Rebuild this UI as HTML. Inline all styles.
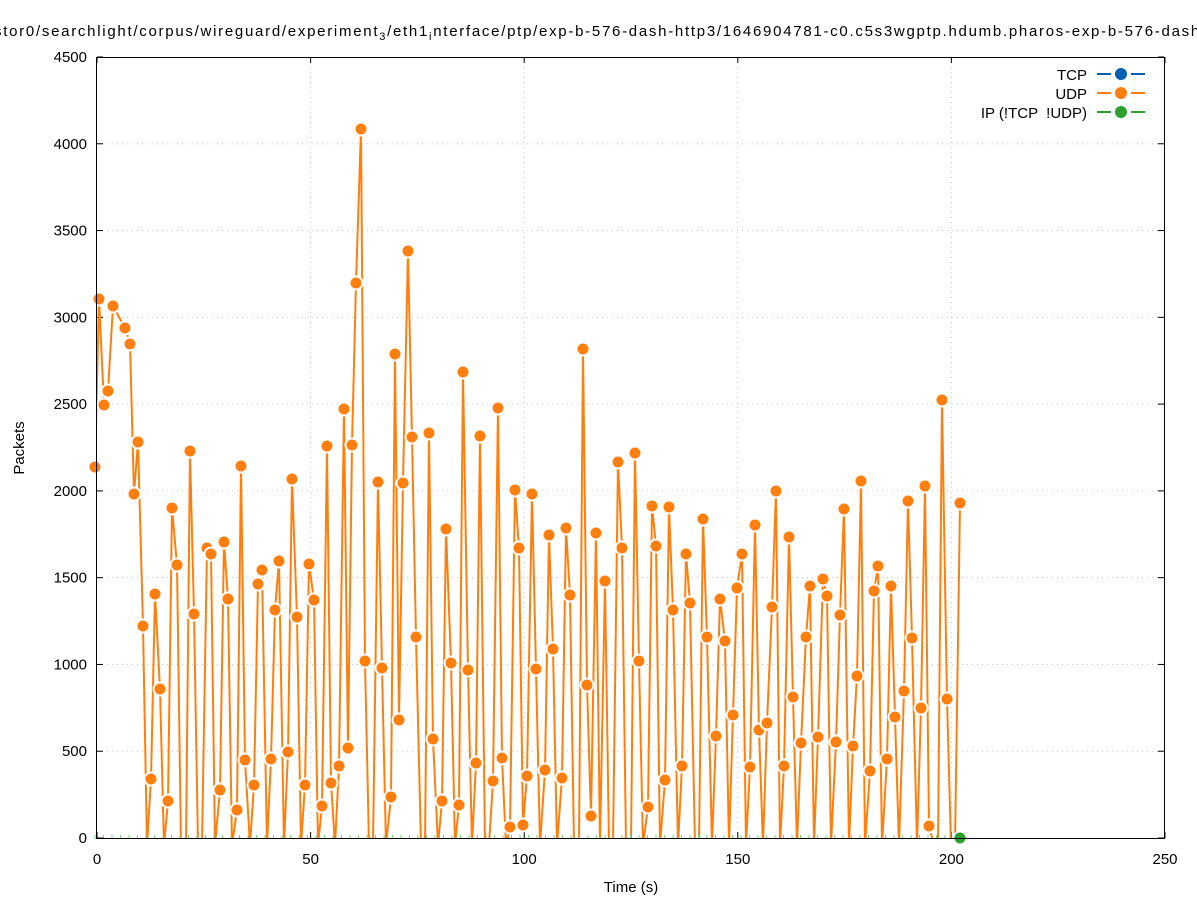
<!DOCTYPE html>
<html><head><meta charset="utf-8"><style>
html,body{margin:0;padding:0;background:#fff;overflow:hidden;}
svg{display:block;font-family:"Liberation Sans","DejaVu Sans",sans-serif;}
</style></head><body>
<svg id="s" width="1197" height="900" viewBox="0 0 1197 900" xmlns="http://www.w3.org/2000/svg">
<rect width="1197" height="900" fill="#fff"/>
<g id="grid" stroke="#c8c8c8" stroke-dasharray="1,4" stroke-width="1"></g>
<text x="-6" y="36" font-size="15" fill="#000" textLength="1222" lengthAdjust="spacing">stor0/searchlight/corpus/wireguard/experiment<tspan font-size="11" dy="4">3</tspan><tspan dy="-4">/eth1</tspan><tspan font-size="11" dy="4">i</tspan><tspan dy="-4">nterface/ptp/exp-b-576-dash-http3/1646904781-c0.c5s3wgptp.hdumb.pharos-exp-b-576-dash-h</tspan></text>
<g id="ticks" font-size="15" fill="#000"></g>
<svg x="96" y="57" width="1069" height="782" viewBox="96 57 1069 782" overflow="hidden"><g id="data"></g></svg>
<g id="top"></g>
<rect x="96.5" y="57.5" width="1068" height="781" fill="none" stroke="#000" stroke-width="1"/>
<text x="631" y="892" font-size="15" text-anchor="middle">Time (s)</text>
<text x="24" y="448" font-size="15" text-anchor="middle" transform="rotate(-90 24 448)">Packets</text>
<g font-size="15" text-anchor="end">
<text x="1087" y="80">TCP</text>
<text x="1087" y="99">UDP</text>
<text x="1087" y="118" xml:space="preserve">IP (!TCP  !UDP)</text>
</g>
<g stroke-width="2">
<line x1="1097" y1="74" x2="1111" y2="74" stroke="#0060ad"/><line x1="1131" y1="74" x2="1145" y2="74" stroke="#0060ad"/><circle cx="1121" cy="74" r="6" fill="#0060ad"/>
<line x1="1097" y1="93" x2="1111" y2="93" stroke="#ff7f0e"/><line x1="1131" y1="93" x2="1145" y2="93" stroke="#ff7f0e"/><circle cx="1121" cy="93" r="6" fill="#ff7f0e"/>
<line x1="1097" y1="112" x2="1111" y2="112" stroke="#2ca02c"/><line x1="1131" y1="112" x2="1145" y2="112" stroke="#2ca02c"/><circle cx="1121" cy="112" r="6" fill="#2ca02c"/>
</g>
</svg>
<script>
const NS="http://www.w3.org/2000/svg";
function el(t,a,p){const e=document.createElementNS(NS,t);for(const k in a)e.setAttribute(k,a[k]);p.appendChild(e);return e;}
const grid=document.getElementById('grid'),ticks=document.getElementById('ticks'),data=document.getElementById('data'),top_=document.getElementById('top');
for(let i=0;i<=9;i++){const y=838-i*781/9;
 if(i>0&&i<9)el('line',{x1:97,y1:y,x2:1164,y2:y},grid);
 el('line',{x1:97,y1:y,x2:103,y2:y,stroke:'#000'},ticks);el('line',{x1:1158,y1:y,x2:1164,y2:y,stroke:'#000'},ticks);
 const t=el('text',{x:87,y:y+5,'text-anchor':'end'},ticks);t.textContent=i*500;}
for(let i=0;i<=5;i++){const x=97+i*213.6;
 if(i>0&&i<5)el('line',{x1:x,y1:57,x2:x,y2:838},grid);
 el('line',{x1:x,y1:838,x2:x,y2:832,stroke:'#000'},ticks);el('line',{x1:x,y1:57,x2:x,y2:63,stroke:'#000'},ticks);
 const t=el('text',{x:x,y:864,'text-anchor':'middle'},ticks);t.textContent=i*50;}
const P=[[95,467],[99,299],[104,405],[108,391],[113,306],[125,328],[130,344],[134,494],[138,442],[143,626],[147,838],[151,779],[155,594],[160,689],[164,838],[168,801],[172,508],[177,565],[181,838],[186,838],[190,451],[194,614],[198,838],[202,838],[207,548],[211,554],[215,838],[220,790],[224,542],[228,599],[232,838],[237,810],[241,466],[245,760],[250,838],[254,785],[258,584],[262,570],[267,838],[271,759],[275,610],[279,561],[284,838],[288,752],[292,479],[297,617],[301,838],[305,785],[309,564],[314,600],[318,838],[322,806],[327,446],[331,783],[335,838],[339,766],[344,409],[348,748],[352,445],[356,283],[361,129],[365,661],[369,838],[373,838],[378,482],[382,668],[386,838],[391,797],[395,354],[399,720],[403,483],[408,251],[412,437],[416,637],[421,838],[425,838],[429,433],[433,739],[438,838],[442,801],[446,529],[451,663],[455,838],[459,805],[463,372],[468,670],[472,838],[476,763],[480,436],[485,838],[489,838],[493,781],[498,408],[502,758],[506,838],[510,827],[515,490],[519,548],[523,825],[527,776],[532,494],[536,669],[540,838],[545,770],[549,535],[553,649],[557,838],[562,778],[566,528],[570,595],[574,838],[579,838],[583,349],[587,685],[591,816],[596,533],[600,838],[605,581],[609,838],[613,838],[618,462],[622,548],[626,838],[631,838],[635,453],[639,661],[643,838],[648,807],[652,506],[656,546],[660,838],[665,780],[669,507],[673,610],[678,838],[682,766],[686,554],[690,603],[695,838],[699,838],[703,519],[707,637],[712,838],[716,736],[720,599],[725,641],[729,838],[733,715],[737,588],[742,554],[746,838],[750,767],[755,525],[759,730],[763,838],[767,723],[772,607],[776,491],[780,838],[784,766],[789,537],[793,697],[797,838],[801,743],[806,637],[810,586],[814,838],[818,737],[823,579],[827,596],[831,838],[836,742],[840,615],[844,509],[849,838],[853,746],[857,676],[861,481],[865,838],[870,771],[874,591],[878,566],[882,838],[887,759],[891,586],[895,717],[899,838],[904,691],[908,501],[912,638],[917,838],[921,708],[925,486],[929,826],[934,838],[938,838],[942,400],[947,699],[951,838],[955,838],[960,503]];
for(let x=95;x<960;x+=8.5)el('line',{x1:x,y1:835,x2:x,y2:839,stroke:'#7fcf7f','stroke-width':1},top_);
const P2=P.map(p=>[p[0],p[1]===838?845:p[1]]);
el('polyline',{points:P2.map(p=>p.join(',')).join(' '),fill:'none',stroke:'#ff7f0e','stroke-width':2,'stroke-linejoin':'round'},data);
for(const p of P){if(p[1]<838)el('circle',{cx:p[0],cy:p[1],r:6.5,fill:'#ff7f0e',stroke:'#fff','stroke-width':2},top_);}
el('circle',{cx:960,cy:838,r:6.5,fill:'#2ca02c',stroke:'#fff','stroke-width':2},top_);
</script>
</body></html>
